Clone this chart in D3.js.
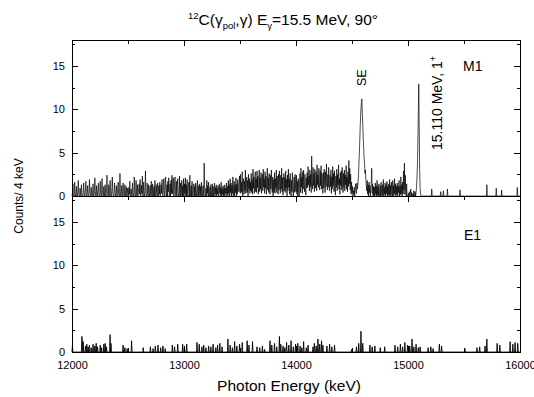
<!DOCTYPE html>
<html>
<head>
<meta charset="utf-8">
<script src="https://cdn.jsdelivr.net/npm/d3@7"></script>
<style>
  body { margin: 0; background: #fff; }
  svg { display: block; font-family: "Liberation Sans", Arial, sans-serif; }
</style>
</head>
<body>
<div id="grafica"></div>
<script>
// --- DATOS ---
// Canales de 4 keV a partir de 12000 keV. Cada fila = 100 keV (25 canales).
const energiaInicio = 12000;
const energiaFin = 16000;
const anchoCanal = 4;

// Espectro M1 (panel superior), parte densa 12000 - 15116 keV
const m1Denso = [
  0,0.3,1.4,0.2,0,0,1.6,0.4,0,0.2,1.1,0,0,0.5,1.8,0.3,0,0,0.9,0.2,0,1.3,0.4,0,0,
  0.2,1.5,0.3,0,0,0.8,1.7,0.2,0,0.4,1.2,0,0,0.3,1.9,0.6,0,0,1.0,0.2,0,0.4,1.4,0,0,
  0.3,2.1,0.5,0,0,1.2,0.3,0,0.6,1.5,0.2,0,0,1.7,0.4,0,0.2,2.0,0.6,0,0,1.1,0.3,0,1.3,
  0.2,0,0.4,2.4,0.6,0,0,1.3,0.2,0,1.8,0.5,0,0,1.0,2.2,0.3,0,0,0.7,1.5,0.2,0,0.4,1.2,
  0,0,0.8,1.6,0.2,0,0,2.6,0.5,0,0.3,1.2,0,0,1.5,0.6,0,0,1.3,0.4,0,1.1,0.3,0,0.9,
  0.3,0,1.0,0.2,1.7,0,0,0.8,0.3,0,1.5,0.4,0,0,2.2,0.6,0,0.2,1.8,0.3,0,1.3,0,0.4,1.0,
  1.4,0.2,1.9,0,0,1.2,0.3,2.3,0,0,1.6,0.4,0,0.5,2.9,0.3,0,0,1.5,0.2,0,1.3,0.5,0,1.0,
  1.2,0,1.7,0.2,0,1.4,0,0.3,1.1,0,1.8,0.2,0,1.3,0.4,0,1.5,0.3,0,1.2,0.2,1.6,0,0.4,1.3,
  0.3,1.9,0.2,0,1.1,2.0,0.3,0,1.4,2.2,0.2,0,1.3,0,1.7,0.5,2.1,0,0,1.4,0,1.8,0.3,2.4,0.2,
  0.9,2.1,0,0,1.5,2.2,0.3,0,1.7,0,1.3,2.0,0.2,0,0.4,2.3,0,1.5,0,0.3,1.8,0,1.2,0,2.0,
  0,1.4,0.3,2.1,0,1.3,0,1.9,0.2,0,1.1,1.6,0,2.4,0.3,0,1.2,0,1.7,0.2,0,0.9,1.4,0,1.1,
  0,1.5,0.2,0,1.0,1.8,0,1.2,0,0.3,1.4,0,1.1,0,1.6,0.2,0,1.0,1.2,0,3.8,1.3,0,0,0.9,
  0,1.8,0.3,1.2,0,1.6,0,0.4,1.0,0,1.3,0,0.2,1.4,0,1.1,0,0.3,1.5,0,1.0,0.2,1.3,0,0.9,
  0.2,1.2,0,0,1.4,0.3,1.0,0,1.6,0,0.8,0.2,1.2,0,1.0,0,1.3,0.3,0.9,0,1.5,0.2,1.1,0,1.8,
  0.3,1.3,0,2.0,0.4,1.5,0,1.2,0.3,2.2,0,1.0,1.7,0,1.3,0.4,2.1,0,1.4,0.2,1.9,0.5,0.6,1.5,2.3,
  0.4,2.5,0.3,1.6,0.5,2.8,0,1.4,2.0,0.2,1.7,0.6,3.0,0.3,1.5,2.2,0.4,1.8,0,2.5,0.8,2.0,0.3,1.6,0.6,
  2.6,0.4,1.9,0.2,3.1,0.9,2.2,0.3,1.7,2.8,0.5,2.0,0.4,2.9,1.0,2.3,0.2,1.6,3.0,0.5,2.1,0.8,2.7,0.3,1.8,
  2.5,0.6,3.1,1.0,2.0,0.3,2.8,0.9,2.3,0.2,1.8,3.2,0.7,2.1,0.4,2.6,1.1,0.2,2.4,0.8,3.0,1.3,0.4,2.2,0,
  1.9,0.5,2.7,0.3,2.0,0.9,3.0,0.4,2.3,1.0,0.2,2.5,0.7,2.9,1.1,0.3,2.4,0.8,3.2,0.5,2.1,0.1,1.8,2.6,0.6,
  2.2,0.4,2.9,0.9,1.9,0,2.4,0.6,3.1,1.0,2.0,0.2,2.6,0.7,0,1.8,0.5,2.7,0.8,0,1.6,2.2,0.4,2.5,0.9,
  0.5,2.4,0.2,1.7,0,2.0,0.7,0,1.5,2.6,0.4,3.2,1.0,2.2,0.3,2.8,0.8,3.0,1.2,0.5,2.5,0.7,0.1,2.1,0.9,
  2.7,1.0,3.4,1.3,2.3,0.6,3.0,1.1,2.5,0.4,4.6,1.5,0.8,3.3,1.2,2.6,0.5,3.1,1.4,0.9,2.8,0.6,3.6,1.3,2.4,
  1.0,3.2,1.4,0.7,2.9,1.2,3.5,0.8,2.6,1.3,0.3,2.7,0.9,3.1,1.6,0.4,2.8,1.1,3.7,1.5,0.7,2.5,1.0,3.3,1.3,
  0.6,2.4,1.1,3.0,0.3,2.2,0.8,3.4,1.2,2.6,0.5,2.9,0.9,0.1,2.3,1.0,3.1,0.6,2.5,1.3,3.6,0.8,2.0,0.2,2.7,
  1.2,2.9,0.7,3.3,1.5,0.4,2.6,1.0,3.0,0.6,2.4,1.3,3.5,0.8,2.2,0.5,2.8,1.1,4.1,1.4,3.2,0.7,2.5,0.2,1.6,
  0.4,1.1,0,0.6,0.2,1.0,0,0.9,1.4,0.6,0.3,1.5,0.8,1.2,2.0,3.1,4.5,5.8,7.6,8.9,10.1,10.8,11.2,9.6,8.4,
  6.9,5.5,4.4,3.8,2.6,3.0,1.8,1.2,0.6,1.8,0.2,1.3,0,1.6,0.4,1.2,0,1.0,1.5,3.2,0.3,1.4,0,1.1,0,
  1.0,0,1.5,0.2,1.2,0,1.8,0.1,1.1,0,1.4,0.3,0,1.2,0,1.6,0.4,0,1.3,0.1,1.9,0,1.0,0.2,1.5,
  0,1.3,0.3,1.7,0,1.1,0.1,1.4,0,1.9,0.2,1.2,0,1.6,0.5,0,1.8,0,1.2,0.3,2.0,0.1,1.4,0,1.1,
  0.2,1.5,0,1.2,0.4,1.8,0,1.1,0.1,2.2,0.3,1.3,0,1.6,0.2,2.9,0.7,3.8,0.2,2.4,0.5,0,1.4,0,0,
  0,0.3,0,0.5,0,0.2,0.8,0,0.4,0,0,0.3,0,0.6,0.2,0,0.5,0,0.4,1.0,2.1,3.6,6.0,9.5,12.9,
  8.0,3.1,0.9,0.2,0
];

// Espectro M1, cola dispersa: [energía keV, cuentas]
const m1Cola = [
  [15212, 0.8], [15292, 0.5], [15316, 0.6], [15352, 0.8], [15464, 0.7],
  [15704, 1.3], [15788, 0.9], [15836, 0.7], [15976, 1.0]
];

// Espectro E1 (panel inferior): sólo canales distintos de cero
const e1Picos = [
  [12004,0.8],[12088,1.8],[12092,1.4],[12100,1.2],[12120,0.7],[12132,0.9],[12144,0.6],[12156,0.8],
  [12172,0.5],[12188,0.9],[12204,0.7],[12216,1.0],[12228,0.6],[12252,0.8],[12264,0.5],[12284,0.9],
  [12296,1.0],[12308,0.6],[12340,2.0],[12348,1.0],[12456,0.8],[12472,0.5],[12492,0.4],[12532,1.3],
  [12636,0.5],[12700,0.6],[12724,0.4],[12744,0.7],[12768,0.8],[12792,0.5],[12812,0.7],[12832,0.4],
  [12896,0.8],[12916,0.6],[12944,0.9],[12988,0.9],[13004,0.6],[13024,0.9],[13116,1.1],[13136,0.9],
  [13160,0.6],[13176,0.8],[13196,0.5],[13220,0.7],[13240,0.6],[13260,0.9],[13284,0.5],[13300,0.8],
  [13320,1.0],[13340,0.6],[13392,1.5],[13412,0.8],[13432,0.5],[13452,1.2],[13472,0.7],[13496,0.9],
  [13520,1.1],[13564,1.3],[13580,0.8],[13612,1.2],[13652,0.6],[13676,0.5],[13700,0.7],[13720,0.3],
  [13768,1.3],[13784,0.8],[13808,1.0],[13828,0.6],[13852,1.8],[13864,0.9],[13884,0.7],[13900,0.5],
  [13916,1.1],[13936,0.8],[13956,1.3],[13976,0.6],[13996,0.9],[14016,1.0],[14036,0.7],[14052,0.5],
  [14068,1.2],[14092,0.5],[14108,0.8],[14152,0.6],[14164,1.0],[14180,0.7],[14196,1.5],[14212,0.9],
  [14228,1.3],[14240,0.8],[14276,0.7],[14300,0.9],[14320,0.6],[14344,0.8],[14496,0.3],[14540,0.6],
  [14560,1.0],[14580,2.4],[14596,1.0],[14660,0.8],[14680,0.6],[14704,0.7],[14752,0.5],[14792,0.6],
  [14884,0.8],[14908,0.6],[14932,0.9],[14952,0.6],[14972,1.1],[14996,0.8],[15016,0.7],[15036,1.5],
  [15052,0.6],[15072,0.9],[15092,0.5],[15108,0.6],[15180,0.5],[15204,0.6],[15224,0.4],[15280,0.9],
  [15300,0.7],[15508,0.4],[15616,0.5],[15640,0.6],[15688,0.7],[15704,1.5],[15796,1.0],[15820,0.8],
  [15912,1.2],[15936,0.9],[15956,1.1],[15980,1.0]
];

// Marcas de los ejes
const yTicks = [0, 5, 10, 15];
const yMenores = [2.5, 7.5, 12.5, 17.5];
const xTicks = [12000, 13000, 14000, 15000, 16000];
const xMenores = [12500, 13500, 14500, 15500];

// --- PREPARACIÓN: se arma el espectro completo canal por canal ---
function armarEspectro(denso, dispersos) {
  const mapa = new Map(dispersos);
  const puntos = [];
  for (let e = energiaInicio, i = 0; e <= energiaFin; e += anchoCanal, i++) {
    const c = i < denso.length ? denso[i] : (mapa.get(e) || 0);
    puntos.push({ e: e, c: c });
  }
  return puntos;
}
const datosM1 = armarEspectro(m1Denso, m1Cola);
const datosE1 = armarEspectro([], e1Picos);

// --- LIENZO ---
const ancho = 534, alto = 397;
const izq = 72, der = 520, arriba = 40, medio = 196, abajo = 352;

const svg = d3.select("#grafica").append("svg")
  .attr("width", ancho).attr("height", alto);
svg.append("rect").attr("width", ancho).attr("height", alto).attr("fill", "#fff");

const x = d3.scaleLinear().domain([energiaInicio, energiaFin]).range([izq, der]);
const yM1 = d3.scaleLinear().domain([0, 18]).range([medio, arriba]);
const yE1 = d3.scaleLinear().domain([0, 18]).range([abajo, medio]);

// función auxiliar para dibujar un eje sin la línea de dominio
function eje(gen, tx, ty) {
  const g = svg.append("g")
    .attr("transform", `translate(${tx},${ty})`)
    .attr("shape-rendering", "crispEdges")
    .call(gen);
  g.select(".domain").remove();
  g.selectAll("line").attr("stroke", "#000");
  g.selectAll("text").attr("fill", "#000").style("font-size", "11px");
  return g;
}

// --- ESPECTROS ---
const lineaM1 = d3.line().x(d => x(d.e)).y(d => yM1(d.c));
const lineaE1 = d3.line().x(d => x(d.e)).y(d => yE1(d.c));

svg.append("path").datum(datosM1).attr("d", lineaM1)
  .attr("fill", "none").attr("stroke", "#000").attr("stroke-width", 0.7);
svg.append("path").datum(datosE1).attr("d", lineaE1)
  .attr("fill", "none").attr("stroke", "#000").attr("stroke-width", 0.9);

// --- EJES ---
[yM1, yE1].forEach(y => {
  eje(d3.axisLeft(y).tickValues(yTicks).tickSize(-6).tickPadding(7), izq, 0);
  eje(d3.axisLeft(y).tickValues(yMenores).tickSize(-3).tickFormat(""), izq, 0);
  eje(d3.axisRight(y).tickValues(yTicks).tickSize(-6).tickFormat(""), der, 0);
  eje(d3.axisRight(y).tickValues(yMenores).tickSize(-3).tickFormat(""), der, 0);
});

// eje superior (hacia adentro)
eje(d3.axisTop(x).tickValues(xTicks).tickSize(-6).tickFormat(""), 0, arriba);
eje(d3.axisTop(x).tickValues(xMenores).tickSize(-4).tickFormat(""), 0, arriba);
// eje entre paneles (hacia abajo)
eje(d3.axisBottom(x).tickValues(xTicks).tickSize(6).tickFormat(""), 0, medio);
eje(d3.axisBottom(x).tickValues(xMenores).tickSize(4).tickFormat(""), 0, medio);
// eje inferior con etiquetas
eje(d3.axisBottom(x).tickValues(xTicks).tickSize(-6).tickPadding(9).tickFormat(d3.format("d")), 0, abajo);
eje(d3.axisBottom(x).tickValues(xMenores).tickSize(-4).tickFormat(""), 0, abajo);

// marcos
svg.append("rect").attr("x", izq).attr("y", arriba).attr("width", der - izq).attr("height", medio - arriba)
  .attr("fill", "none").attr("stroke", "#000").attr("shape-rendering", "crispEdges");
svg.append("rect").attr("x", izq).attr("y", medio).attr("width", der - izq).attr("height", abajo - medio)
  .attr("fill", "none").attr("stroke", "#000").attr("shape-rendering", "crispEdges");

// --- TEXTOS ---
const titulo = svg.append("text").attr("x", 283).attr("y", 25)
  .attr("text-anchor", "middle").style("font-size", "15.5px");
titulo.append("tspan").text("12").style("font-size", "9.5px").attr("dy", -6);
titulo.append("tspan").text("C(γ").attr("dy", 6);
titulo.append("tspan").text("pol").style("font-size", "9.5px").attr("dy", 4);
titulo.append("tspan").text(",γ) E").attr("dy", -4);
titulo.append("tspan").text("γ").style("font-size", "9.5px").attr("dy", 4);
titulo.append("tspan").text("=15.5 MeV, 90°").attr("dy", -4);

svg.append("text").attr("transform", "translate(23,196) rotate(-90)")
  .attr("text-anchor", "middle").style("font-size", "12px").text("Counts/ 4 keV");

svg.append("text").attr("x", 289).attr("y", 391)
  .attr("text-anchor", "middle").style("font-size", "15.5px").text("Photon Energy (keV)");

svg.append("text").attr("transform", `translate(${x(14588) + 4},86) rotate(-90)`)
  .style("font-size", "12.5px").text("SE");

const etiqueta = svg.append("text").attr("transform", `translate(${x(15098) + 23},150) rotate(-90)`)
  .style("font-size", "14px");
etiqueta.append("tspan").text("15.110 MeV, 1");
etiqueta.append("tspan").text("+").style("font-size", "9px").attr("dy", -6);

svg.append("text").attr("x", 463).attr("y", 71).style("font-size", "14px").text("M1");
svg.append("text").attr("x", 464).attr("y", 240).style("font-size", "14px").text("E1");
</script>
</body>
</html>
